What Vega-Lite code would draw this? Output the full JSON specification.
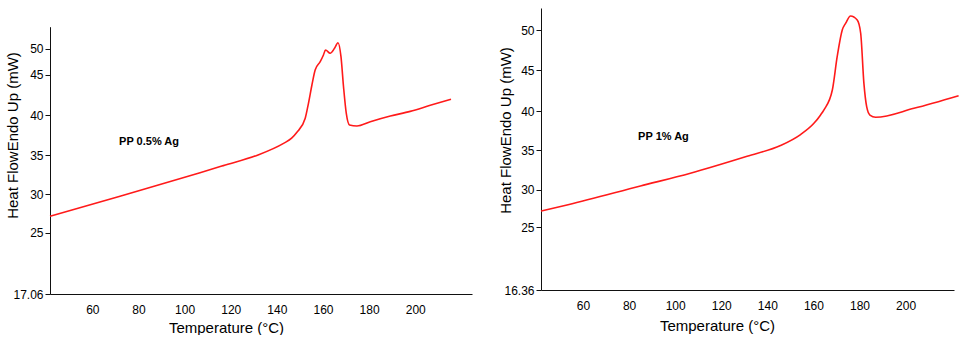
{
  "$schema": "https://vega.github.io/schema/vega-lite/v6.json",
  "background": "white",
  "padding": {"top": 8, "left": 4, "right": 0, "bottom": 0},
  "spacing": 25,
  "datasets": {
    "pp05": [
      {"T": 41.65, "hf": 27.13}, {"T": 72.0, "hf": 29.75}, {"T": 106.7, "hf": 32.75}, {"T": 116.8, "hf": 33.65},
      {"T": 131.3, "hf": 34.95}, {"T": 142.9, "hf": 36.46}, {"T": 146.4, "hf": 37.1}, {"T": 148.7, "hf": 37.84},
      {"T": 152.3, "hf": 39.6}, {"T": 153.7, "hf": 41.45}, {"T": 155.2, "hf": 43.72}, {"T": 156.6, "hf": 45.9},
      {"T": 158.8, "hf": 47.5}, {"T": 160.2, "hf": 48.79}, {"T": 161.1, "hf": 49.75}, {"T": 163.1, "hf": 49.12},
      {"T": 165.0, "hf": 50.08}, {"T": 166.5, "hf": 51.14}, {"T": 167.8, "hf": 48.46}, {"T": 168.9, "hf": 43.5},
      {"T": 170.1, "hf": 40.2}, {"T": 171.5, "hf": 38.75}, {"T": 174.7, "hf": 38.63}, {"T": 180.5, "hf": 39.16},
      {"T": 189.2, "hf": 39.87}, {"T": 197.8, "hf": 40.45}, {"T": 206.5, "hf": 41.2}, {"T": 215.5, "hf": 41.95}
    ],
    "pp1": [
      {"T": 41.76, "hf": 27.15}, {"T": 53.5, "hf": 28.0}, {"T": 84.9, "hf": 30.47},
      {"T": 106.6, "hf": 32.1}, {"T": 131.2, "hf": 34.25}, {"T": 145.7, "hf": 35.6},
      {"T": 154.4, "hf": 37.0}, {"T": 160.2, "hf": 38.43}, {"T": 163.1, "hf": 39.5},
      {"T": 164.5, "hf": 40.12}, {"T": 168.2, "hf": 42.58}, {"T": 170.3, "hf": 46.7}, {"T": 172.5, "hf": 50.04},
      {"T": 174.0, "hf": 50.9}, {"T": 176.1, "hf": 51.8}, {"T": 179.0, "hf": 51.29}, {"T": 180.5, "hf": 49.63},
      {"T": 181.9, "hf": 43.4}, {"T": 183.1, "hf": 40.53}, {"T": 184.5, "hf": 39.49}, {"T": 187.0, "hf": 39.2},
      {"T": 203.6, "hf": 40.33}, {"T": 223.0, "hf": 41.88}
    ],
    "lab05": [{"T": 71.6, "hf": 36.6, "label": "PP 0.5% Ag"}],
    "lab1": [{"T": 83.9, "hf": 36.73, "label": "PP 1% Ag"}]
  },
  "hconcat": [
    {
      "width": 422,
      "height": 286,
      "layer": [
        {
          "data": {"name": "pp05"},
          "mark": {"type": "line", "color": "#ff1a1a", "strokeWidth": 1.6, "interpolate": "monotone"},
          "encoding": {
            "x": {"field": "T", "type": "quantitative",
              "scale": {"domain": [41.65, 224.6], "nice": false, "zero": false},
              "axis": {"title": "Temperature (°C)", "values": [60, 80, 100, 120, 140, 160, 180, 200], "ticks": false,
                "labelPadding": 10, "titleX": 176, "titleY": 33, "titleBaseline": "middle"}},
            "y": {"field": "hf", "type": "quantitative",
              "scale": {"domain": [17.06, 25, 30, 35, 40, 45, 50, 54.2], "range": [286, 224.7, 186.3, 147, 107, 66.7, 40.7, 18.7], "nice": false, "zero": false},
              "axis": {"title": "Heat FlowEndo Up (mW)", "values": [17.06, 25, 30, 35, 40, 45, 50], "labelExpr": "'' + datum.value",
                "titleX": -38, "titleY": 127, "titleBaseline": "middle"}}
          }
        },
        {
          "data": {"name": "lab05"},
          "mark": {"type": "text", "align": "left", "baseline": "middle", "fontWeight": "bold", "fontSize": 11, "font": "Liberation Sans", "color": "#000"},
          "encoding": {
            "x": {"field": "T", "type": "quantitative"},
            "y": {"field": "hf", "type": "quantitative"},
            "text": {"field": "label"}
          }
        }
      ]
    },
    {
      "width": 413,
      "height": 282,
      "layer": [
        {
          "data": {"name": "pp1"},
          "mark": {"type": "line", "color": "#ff1a1a", "strokeWidth": 1.6, "interpolate": "monotone"},
          "encoding": {
            "x": {"field": "T", "type": "quantitative",
              "scale": {"domain": [41.76, 221.0], "nice": false, "zero": false},
              "axis": {"title": "Temperature (°C)", "values": [60, 80, 100, 120, 140, 160, 180, 200], "ticks": false,
                "labelPadding": 10, "titleX": 176, "titleY": 35, "titleBaseline": "middle"}},
            "y": {"field": "hf", "type": "quantitative",
              "scale": {"domain": [16.36, 25, 30, 35, 40, 45, 50, 52.8], "range": [282, 219.3, 181.7, 142.3, 103, 62.3, 22.3, 0], "nice": false, "zero": false},
              "axis": {"title": "Heat FlowEndo Up (mW)", "values": [16.36, 25, 30, 35, 40, 45, 50], "labelExpr": "'' + datum.value",
                "titleX": -36, "titleY": 122, "titleBaseline": "middle"}}
          }
        },
        {
          "data": {"name": "lab1"},
          "mark": {"type": "text", "align": "left", "baseline": "middle", "fontWeight": "bold", "fontSize": 11, "font": "Liberation Sans", "color": "#000"},
          "encoding": {
            "x": {"field": "T", "type": "quantitative"},
            "y": {"field": "hf", "type": "quantitative"},
            "text": {"field": "label"}
          }
        }
      ]
    }
  ],
  "config": {
    "view": {"stroke": null},
    "axis": {
      "grid": false,
      "domainColor": "#111",
      "domainWidth": 1,
      "tickColor": "#111",
      "tickSize": 5,
      "labelColor": "#000",
      "labelFont": "Liberation Sans",
      "labelFontSize": 12,
      "titleColor": "#000",
      "titleFont": "Liberation Sans",
      "titleFontSize": 15,
      "titleFontWeight": "normal"
    }
  }
}
